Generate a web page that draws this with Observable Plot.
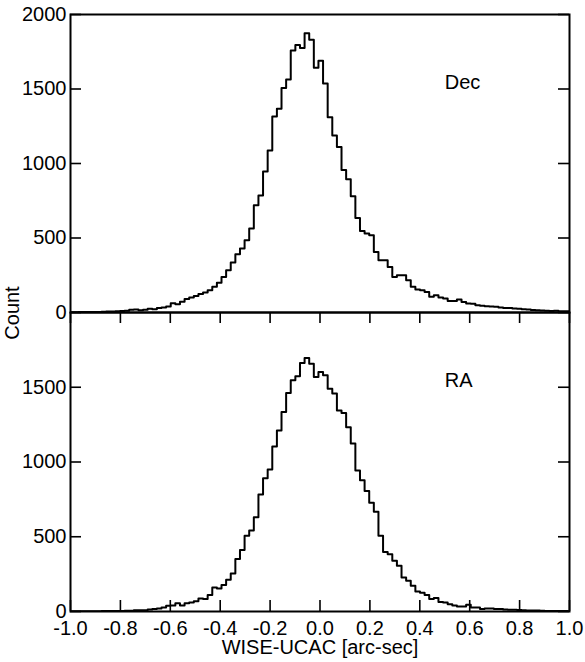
<!DOCTYPE html>
<html>
<head>
<meta charset="utf-8">
<script src="https://cdn.jsdelivr.net/npm/d3@7"></script>
<script src="https://cdn.jsdelivr.net/npm/@observablehq/plot@0.6"></script>
<style>
  html, body { margin: 0; padding: 0; background: #fff; }
  #chart { position: relative; width: 585px; height: 662px; font-family: "Liberation Sans", Arial, Helvetica, sans-serif; color: #000; }
  #chart svg { position: absolute; left: 0; }
  #count { position: absolute; left: 12px; top: 313px; transform: translate(-50%, -50%) rotate(-90deg); font-size: 20px; white-space: nowrap; }
</style>
</head>
<body>
<div id="chart"><div id="count">Count</div></div>
<script>
// Histogram bins: index -54 .. 54, width and centre offset
const binWidth = 0.0185;
const binOffset = 0.003;
const binIndex = [
  -54,-53,-52,-51,-50,-49,-48,-47,-46,-45,-44,-43,-42,-41,-40,-39,-38,-37,-36,-35,-34,-33,
  -32,-31,-30,-29,-28,-27,-26,-25,-24,-23,-22,-21,-20,-19,-18,-17,-16,-15,-14,-13,-12,-11,
  -10,-9,-8,-7,-6,-5,-4,-3,-2,-1,0,1,2,3,4,5,6,7,8,9,10,
  11,12,13,14,15,16,17,18,19,20,21,22,23,24,25,26,27,28,29,30,31,32,
  33,34,35,36,37,38,39,40,41,42,43,44,45,46,47,48,49,50,51,52,53,54
];

// Dec (top panel) counts per bin
const decCounts = [
  2,2,3,3,3,4,4,5,6,6,8,
  10,12,18,20,15,18,25,22,30,33,40,
  62,55,72,90,100,110,125,135,150,172,199,
  239,284,335,391,429,485,563,719,786,947,1088,
  1316,1367,1506,1564,1758,1796,1776,1874,1830,1643,
  1690,1537,1311,1188,1110,956,895,780,634,547,530,
  518,406,351,351,306,239,250,250,216,172,154,
  150,138,105,116,100,94,78,78,87,71,60,
  58,49,45,42,40,38,34,31,30,27,25,
  22,20,17,15,13,11,10,12,9,8,8
];

// RA (bottom panel) counts per bin
const raCounts = [
  1,1,1,2,2,2,2,3,3,3,4,
  4,5,5,8,8,9,14,16,20,27,38,
  40,55,40,56,60,68,87,83,110,160,154,
  177,212,255,351,411,507,541,630,782,892,950,
  1104,1211,1334,1461,1546,1573,1662,1696,1658,1569,
  1602,1580,1490,1459,1345,1327,1233,1123,943,878,806,
  728,667,507,398,383,340,306,228,206,172,133,
  125,110,84,90,63,61,49,40,34,34,45,
  27,27,16,20,20,16,16,13,11,11,10,
  9,7,7,6,5,4,4,3,3,3,2
];

const xTicks = [-1.0,-0.8,-0.6,-0.4,-0.2,0.0,0.2,0.4,0.6,0.8,1.0];
const yTicksTop = [0,500,1000,1500,2000];
const yTicksBottom = [0,500,1000,1500];
const panelNames = ["Dec","RA"];
const xTitle = "WISE-UCAC [arc-sec]";

function stepPoints(counts) {
  const pts = counts.map((c, i) => ({x: binOffset + (binIndex[i] - 0.5) * binWidth, y: c}));
  const last = binIndex[binIndex.length - 1];
  pts.push({x: binOffset + (last + 0.5) * binWidth, y: counts[counts.length - 1]});
  return pts;
}

const W = 585, ML = 70, MR = 16, TICK = 11;
const FONT = "\"Liberation Sans\", Arial, Helvetica, sans-serif";

function panel({counts, name, yTicks, height, marginTop, marginBottom, bottom}) {
  const innerW = W - ML - MR;
  const innerH = height - marginTop - marginBottom;
  const marks = [
    Plot.lineY(stepPoints(counts), {x: "x", y: "y", curve: "step-after", stroke: "black", strokeWidth: 2, clip: true}),
    Plot.frame({stroke: "black", strokeWidth: 2}),
    Plot.tickY(yTicks, {y: d => d, insetRight: innerW - TICK, stroke: "black", strokeWidth: 1.6}),
    Plot.tickY(yTicks, {y: d => d, insetLeft: innerW - TICK, stroke: "black", strokeWidth: 1.6}),
    Plot.axisY({ticks: yTicks, tickSize: 0, tickPadding: 4, tickFormat: d => String(d), label: null, fontSize: 20}),
    Plot.text([name], {x: () => 0.5, y: () => 1545, text: d => d, textAnchor: "start", fontSize: 20, fill: "black"})
  ];
  if (bottom) {
    marks.push(
      Plot.tickX(xTicks, {x: d => d, insetTop: innerH - TICK, stroke: "black", strokeWidth: 1.6}),
      Plot.tickX(xTicks, {x: d => d, insetBottom: innerH - TICK, stroke: "black", strokeWidth: 1.6}),
      Plot.axisX({ticks: xTicks, tickSize: 0, tickPadding: 9, tickFormat: d => d.toFixed(1), label: null, fontSize: 20}),
      Plot.text([xTitle], {frameAnchor: "bottom", dy: 42, text: d => d, fontSize: 20, fill: "black"})
    );
  } else {
    marks.push(Plot.axisX({ticks: [], tickSize: 0, label: null}));
  }
  return Plot.plot({
    width: W, height, marginLeft: ML, marginRight: MR, marginTop, marginBottom,
    style: {fontFamily: FONT, fontSize: "20px", background: "transparent", overflow: "visible", color: "black"},
    x: {domain: [-1, 1]},
    y: {domain: [0, 2000]},
    marks
  });
}

const chartEl = document.getElementById("chart");
const topPanel = panel({counts: decCounts, name: panelNames[0], yTicks: yTicksTop, height: 320, marginTop: 14, marginBottom: 8, bottom: false});
topPanel.style.top = "0px";
const bottomPanel = panel({counts: raCounts, name: panelNames[1], yTicks: yTicksBottom, height: 357, marginTop: 7, marginBottom: 51, bottom: true});
bottomPanel.style.top = "305px";
chartEl.appendChild(topPanel);
chartEl.appendChild(bottomPanel);
</script>
</body>
</html>
